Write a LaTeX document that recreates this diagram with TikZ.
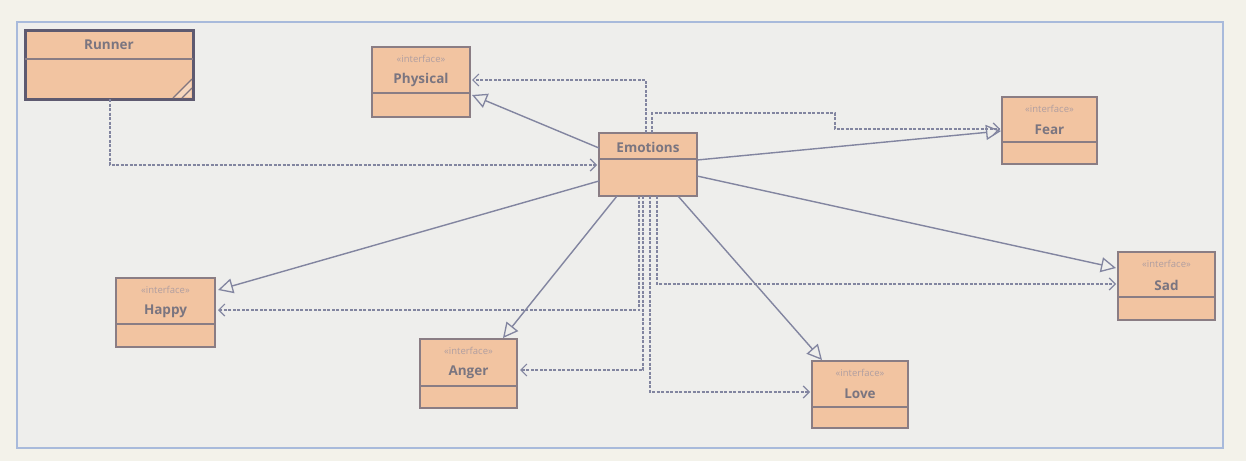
\documentclass[tikz,border=0pt]{standalone}
\usepackage{fontspec}
\setmainfont{Open Sans}
\usetikzlibrary{arrows.meta,calc}
\definecolor{bgout}{HTML}{F3F2EA}
\definecolor{bgin}{HTML}{EEEEEC}
\definecolor{framec}{HTML}{A8BADB}
\definecolor{boxfill}{HTML}{F2C4A1}
\definecolor{boxline}{HTML}{8A7D84}
\definecolor{txt}{HTML}{7A7580}
\definecolor{stereo}{HTML}{B09EA0}
\definecolor{conn}{HTML}{8285A0}
\definecolor{runline}{HTML}{5E5A70}
\newcommand{\umliface}[7]{%
  \node[umlbox, minimum width=#4pt, minimum height=#5pt] (#1) at (#2,#3) {};
  \draw[divline] (#2,#6) -- (#2+#4,#6);
  \node[stereotext] (#1-st) at (#2+#4/2,#3+12) {«interface»};
  \node[nametext] (#1-nm) at (#2+#4/2,#3+33) {#7};
}
\begin{document}
\begin{tikzpicture}[x=1pt,y=-1pt,
  umlbox/.style={draw=boxline, fill=boxfill, line width=1.3pt, anchor=north west, inner sep=0pt, outer sep=0pt},
  divline/.style={draw=boxline, line width=1.3pt},
  nametext/.style={text=txt, font=\fontsize{13.5}{15}\selectfont\bfseries, inner sep=0pt},
  stereotext/.style={text=stereo, font=\fontsize{9.5}{10}\selectfont, inner sep=0pt},
  gen/.style={draw=conn, line width=1.4pt, -{Triangle[open, length=15pt, width=15pt, line width=1.3pt]}},
  dep/.style={draw=conn, line width=1.1pt, dash pattern=on 3pt off 1.5pt, -{Straight Barb[length=6pt, width=12pt, line width=1.2pt]}},
]
\fill[bgout] (0,0) rectangle (1246,461);
\useasboundingbox (0,0) rectangle (1246,461);
\draw[framec, line width=2pt, fill=bgin] (17,22) rectangle (1223,448);

% Runner
\node[umlbox, draw=runline, line width=3pt, minimum width=168pt, minimum height=69pt] (runner) at (25,30) {};
\draw[divline] (25,59) -- (193,59);
\node[nametext] (runner-nm) at (109,45) {Runner};
\fill[boxfill!70!white] (175,97) -- (191,81) -- (191,97) -- cycle;
\draw[boxline!80!runline, line width=1.2pt] (173,98) -- (192,79);
\draw[boxline!80!runline, line width=1.2pt] (182,98) -- (192,88);

% Emotions
\node[umlbox, minimum width=98pt, minimum height=63pt] (emo) at (599,133) {};
\draw[divline] (599,159) -- (697,159);
\node[nametext] (emo-nm) at (648,147) {Emotions};

% Interfaces
\umliface{phys}{372}{47}{98}{70}{93}{Physical}
\umliface{fear}{1002}{97}{95}{67}{142}{Fear}
\umliface{sad}{1118}{252}{97}{68}{297}{Sad}
\umliface{happy}{116}{278}{99}{69}{324}{Happy}
\umliface{anger}{420}{339}{97}{69}{386}{Anger}
\umliface{love}{812}{361}{96}{67}{407}{Love}

% Dependencies (dashed)
\draw[dep] ($(runner.south west)+(85,0)$) |- ($(emo.north west)+(-2,32)$);
\draw[dep] ($(emo.north west)+(47,0)$) |- ($(phys.north east)+(2,33)$);
\draw[dep] ($(emo.north west)+(53,0)$) |- (835,113) |- ($(fear.north west)+(-2,32)$);
\draw[dep] ($(emo.south west)+(58,0)$) |- ($(sad.north west)+(-2,32)$);
\draw[dep] ($(emo.south west)+(51,0)$) |- ($(love.north west)+(-2,31)$);
\draw[dep] ($(emo.south west)+(44,0)$) |- ($(anger.north east)+(3,31)$);
\draw[dep] ($(emo.south west)+(40,0)$) |- ($(happy.north east)+(3,32)$);

% Realizations (solid, hollow triangle)
\draw[gen] ($(emo.north west)+(0,15)$) -- ($(phys.north east)+(2,48)$);
\draw[gen] ($(emo.north east)+(0,27)$) -- ($(fear.north west)+(-1,34)$);
\draw[gen] ($(emo.north east)+(0,43)$) -- ($(sad.north west)+(-2,16)$);
\draw[gen] ($(emo.south west)+(79,0)$) -- ($(love.north west)+(10,-1)$);
\draw[gen] ($(emo.south west)+(18,0)$) -- ($(anger.north east)+(-14,-1)$);
\draw[gen] ($(emo.north west)+(0,48)$) -- ($(happy.north east)+(3,12)$);
\end{tikzpicture}
\end{document}
